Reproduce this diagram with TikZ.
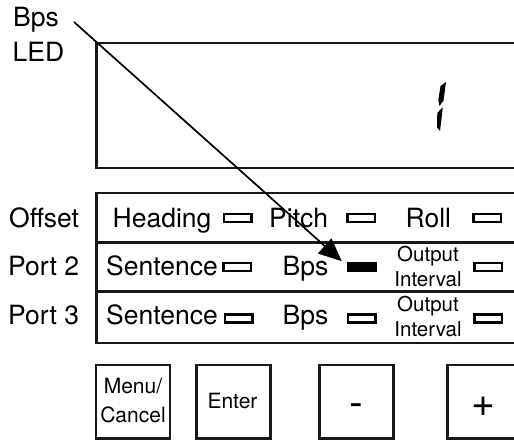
\documentclass[tikz,border=0pt]{standalone}
\usepackage{fontspec}
\setmainfont{TeX Gyre Heros}
\usetikzlibrary{arrows.meta}
\begin{document}
\begin{tikzpicture}[x=1pt,y=-1pt,
  frame/.style={draw=black!90,line width=2.5pt},
  big/.style={inner sep=0pt,anchor=base west,font=\fontsize{26.5}{30}\selectfont},
  small/.style={inner sep=0pt,align=center,font=\fontsize{20.5}{25}\selectfont},
  btntext/.style={inner sep=0pt,align=center,font=\fontsize{21}{29}\selectfont},
  sign/.style={inner sep=0pt,anchor=base,font=\fontsize{41}{44}\selectfont},
  led/.style={draw=black,line width=2.5pt,inner sep=0pt,minimum width=27.5pt,minimum height=8pt},
  ledon/.style={fill=black,inner sep=0pt,minimum width=30pt,minimum height=10.5pt},
  btn/.style={frame,inner sep=0pt,minimum width=74pt,minimum height=73.5pt},
  pointer/.style={line width=1.7pt,-{Triangle[length=23pt,width=20pt]}}]
\useasboundingbox (0,0) rectangle (514,441);
\clip (0,0) rectangle (514,441);
% display
\draw[frame] (96.5,43) rectangle (540,168);
\fill (440.5,86) -- (446,82) -- (443.5,100.5) -- (439.5,106) -- (438.3,100) -- cycle;
\fill (439.8,110) -- (442.8,107.5) -- (440,131) -- (437,127.5) -- (437.3,113) -- cycle;
% panel
\draw[frame] (96.5,193) rectangle (540,343);
\draw[frame] (96.5,242.3) -- (540,242.3);
\draw[frame] (96.5,291.6) -- (540,291.6);
% left labels
\node[big] (lbps) at (13,27) {Bps};
\node[big] (lled) at (12.5,62) {LED};
\node[big] (loff) at (9,227) {Offset};
\node[big] (lp2) at (8,275.5) {Port 2};
\node[big] (lp3) at (8,324) {Port 3};
% row 1
\node[big] (thead) at (112.5,227) {Heading};
\node[led] (ledhead) at (237.5,218) {};
\node[big] (tpitch) at (269,227) {Pitch};
\node[led] (ledpitch) at (361,218) {};
\node[big] (troll) at (405.5,227) {Roll};
\node[led] (ledroll) at (487,218) {};
% row 2
\node[big] (tsent2) at (106,275.5) {Sentence};
\node[led] (ledsent2) at (237,267) {};
\node[big] (tbps2) at (282.5,275.5) {Bps};
\node[ledon] (ledbps2) at (362,267) {};
\node[small] (tout2) at (428,266.5) {Output\\Interval};
\node[led] (ledout2) at (488,267) {};
% row 3
\node[big] (tsent3) at (106,324) {Sentence};
\node[led] (ledsent3) at (238.5,318.5) {};
\node[big] (tbps3) at (282.5,324) {Bps};
\node[led] (ledbps3) at (361.5,318.5) {};
\node[small] (tout3) at (428,316.5) {Output\\Interval};
\node[led] (ledout3) at (488,318.5) {};
% buttons
\node[btn] (b1) at (133,401.75) {};
\node[btntext] (t1) at (133,401) {Menu/\\Cancel};
\node[btn] (b2) at (233.25,401.75) {};
\node[btntext] (t2) at (232.5,401.5) {Enter};
\node[btn] (b3) at (356.25,401.75) {};
\node[sign] (t3) at (356,416) {-};
\node[btn] (b4) at (484.25,401.75) {};
\node[sign] (t4) at (483,416) {+};
% pointer
\coordinate (pstart) at (74,22);
\draw[pointer] (pstart) -- ([xshift=-5pt,yshift=0.3pt]ledbps2.north west);
\end{tikzpicture}
\end{document}
